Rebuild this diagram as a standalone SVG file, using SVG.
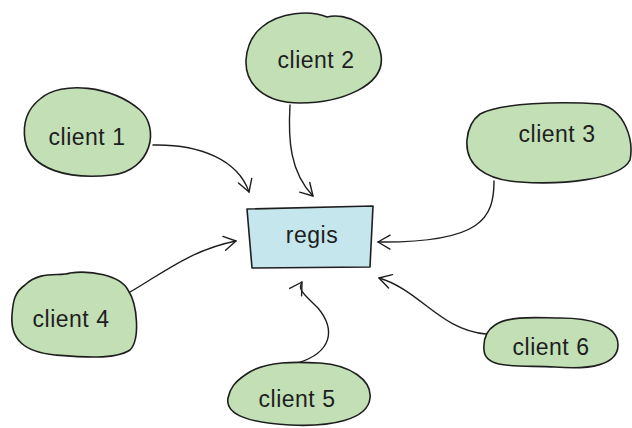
<svg xmlns="http://www.w3.org/2000/svg" width="632" height="428" viewBox="0 0 632 428">
<style>
.blob{fill:#c2dfb5;stroke:#1e1e1e;stroke-width:1.6;stroke-linejoin:round}
.box{fill:#c5e6ec;stroke:#1e1e1e;stroke-width:1.6;stroke-linejoin:round}
.lbl{font-family:"Liberation Sans",Arial,sans-serif;font-size:23px;fill:#1e1e1e;text-anchor:middle;letter-spacing:0.5px}
.edge{fill:none;stroke:#1e1e1e;stroke-width:1.4;stroke-linecap:round;marker-end:url(#ah)}
</style>
<defs>
<marker id="ah" viewBox="-14 -9 16 18" refX="0" refY="0" markerWidth="16" markerHeight="18" markerUnits="userSpaceOnUse" orient="auto">
<path d="M-12,-7 L0,0 L-12,7" fill="none" stroke="#1e1e1e" stroke-width="1.4" stroke-linecap="round" stroke-linejoin="round"/>
</marker>
</defs>
<rect width="632" height="428" fill="#ffffff"/>
<g id="connectors">
<path class="edge" d="M153,145 C200,144 238,160 249,192"/>
<path class="edge" d="M290,105 C288,140 290,172 313,196"/>
<path class="edge" d="M494,181 C494,218 482,243 378,242"/>
<path class="edge" d="M130,292 C160,275 190,250 236,241"/>
<path class="edge" d="M298,363 C332,352 336,330 318,308 C305,295 297,290 302,282"/>
<path class="edge" d="M486,334 C440,330 420,290 379,278"/>
</g>
<g id="regis">
<path class="box" d="M247,209 L373,206 L370,267 L252,268 Z"/>
<text class="lbl" x="312" y="243">regis</text>
</g>
<g id="client1">
<path class="blob" d="M40,99 C62,80 112,86 140,110 C160,128 152,170 112,175 C70,180 30,170 25,140 C22,120 30,107 40,99 Z"/>
<text class="lbl" x="87" y="145">client 1</text>
</g>
<g id="client2">
<path class="blob" d="M262,27 C280,12 310,10 327,17 C345,12 376,25 381,55 C386,86 340,103 300,103 C265,103 245,85 246,60 C247,45 252,35 262,27 Z"/>
<text class="lbl" x="316" y="68">client 2</text>
</g>
<g id="client3">
<path class="blob" d="M480,114 C500,103 560,101 600,104 C625,110 634,140 630,160 C620,180 560,185 520,182 C485,180 465,165 467,140 C468,128 472,120 480,114 Z"/>
<text class="lbl" x="557" y="142">client 3</text>
</g>
<g id="client4">
<path class="blob" d="M25,285 C40,270 60,277 70,273 C90,270 120,275 128,290 C138,305 140,340 130,350 C115,360 80,357 55,355 C25,352 10,340 12,315 C13,300 15,292 25,285 Z"/>
<text class="lbl" x="71" y="327">client 4</text>
</g>
<g id="client5">
<path class="blob" d="M245,375 C265,360 300,362 320,363 C350,365 372,380 370,398 C368,420 330,427 290,425 C250,423 225,415 228,398 C230,388 235,382 245,375 Z"/>
<text class="lbl" x="297" y="407">client 5</text>
</g>
<g id="client6">
<path class="blob" d="M495,325 C510,315 540,318 560,318 C590,318 618,325 618,345 C618,365 590,370 555,367 C520,365 485,370 484,350 C483,338 487,330 495,325 Z"/>
<text class="lbl" x="551" y="355">client 6</text>
</g>
</svg>
